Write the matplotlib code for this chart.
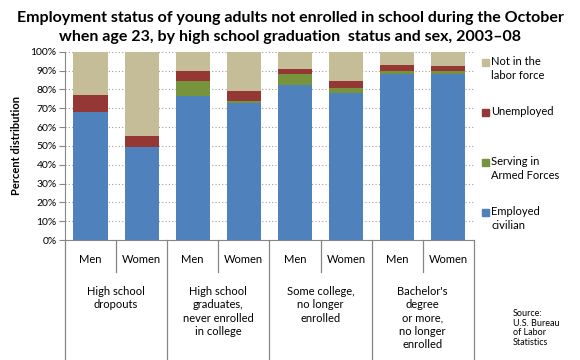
import numpy as np
import matplotlib.pyplot as plt
from matplotlib.transforms import blended_transform_factory

plt.rcParams['font.family'] = ['Lato', 'DejaVu Sans']

# dati (percentuali)
sessi = ['Men', 'Women'] * 4
gruppi = ['High school\ndropouts',
          'High school\ngraduates,\nnever enrolled\nin college',
          'Some college,\nno longer\nenrolled',
          "Bachelor's\ndegree\nor more,\nno longer\nenrolled"]
employed = [68.1, 49.5, 76.8, 72.9, 82.4, 78.2, 88.3, 88.3]
armed = [0.0, 0.0, 7.8, 1.0, 5.9, 2.7, 1.4, 1.4]
unemployed = [9.0, 5.8, 5.3, 5.4, 2.7, 3.7, 3.4, 3.0]
not_in_lf = [22.9, 44.7, 10.1, 20.7, 9.0, 15.4, 6.9, 7.3]

serie = [('Employed\ncivilian', employed, '#4F81BD'),
         ('Serving in\nArmed Forces', armed, '#77933C'),
         ('Unemployed', unemployed, '#953735'),
         ('Not in the\nlabor force', not_in_lf, '#C4BD97')]

fig = plt.figure(figsize=(5.8, 3.6), dpi=100)
ax = fig.add_axes([0.112, 0.333, 0.705, 0.523])

x = np.arange(len(sessi))
base = np.zeros(len(sessi))
for nome, val, col in serie:
    ax.bar(x, val, bottom=base, width=0.67, color=col, zorder=2)
    base += np.array(val)

ax.set_xlim(-0.5, 7.5)
ax.set_ylim(0, 100)
ax.set_yticks(np.arange(0, 101, 10))
ax.set_yticklabels([f'{v}%' for v in range(0, 101, 10)], fontsize=7.5)
ax.yaxis.grid(True, linestyle=(0, (1, 2)), color='#A0A0A0', linewidth=0.8, zorder=0)
ax.set_xticks([])
for s in ['top', 'right']:
    ax.spines[s].set_visible(False)
for s in ['left', 'bottom']:
    ax.spines[s].set_color('#868686')
ax.tick_params(axis='y', color='#868686', length=4, pad=2)
ax.set_ylabel('Percent distribution', fontsize=8, fontweight='bold', labelpad=6)

# asse categorie a due livelli
tr = blended_transform_factory(ax.transData, ax.transAxes)
for b in [-0.5, 1.5, 3.5, 5.5, 7.5]:
    ax.plot([b, b], [0, -0.64], transform=tr, color='#868686', lw=0.9, clip_on=False)
for d in [0.5, 2.5, 4.5, 6.5]:
    ax.plot([d, d], [0, -0.17], transform=tr, color='#868686', lw=0.9, clip_on=False)
for i, s in enumerate(sessi):
    ax.text(i, -0.105, s, transform=tr, ha='center', va='center', fontsize=8)
for g, testo in enumerate(gruppi):
    ax.text(2 * g + 0.5, -0.245, testo, transform=tr, ha='center', va='top',
            fontsize=8, linespacing=1.25)

# legenda manuale
legenda_y = [62, 112, 162, 212]
for (nome, val, col), yy in zip(reversed(serie), legenda_y):
    fig.patches.append(plt.Rectangle((482 / 580, 1 - (yy + 4) / 360), 7 / 580, 7 / 360,
                                     transform=fig.transFigure, color=col))
    fig.text(491 / 580, 1 - (yy - 6) / 360, nome, ha='left', va='top', fontsize=8,
             linespacing=1.3)

fig.text(513 / 580, 1 - 309 / 360, 'Source:\nU.S. Bureau\nof Labor\nStatistics',
         ha='left', va='top', fontsize=6.5, linespacing=1.1)

fig.suptitle('Employment status of young adults not enrolled in school during the October\n'
             'when age 23, by high school graduation  status and sex, 2003\u201308',
             x=0.5, y=0.97, fontsize=11.5, fontweight='bold', linespacing=1.45)

fig.savefig('out.png', dpi=100)
